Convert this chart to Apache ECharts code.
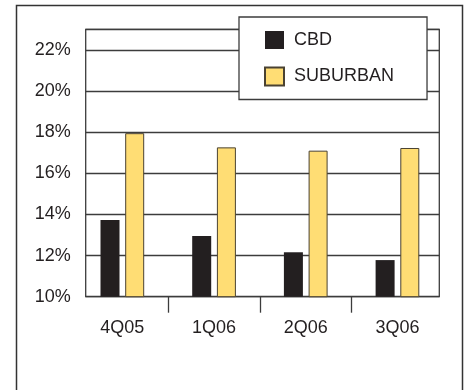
<!DOCTYPE html>
<html>
<head>
<meta charset="utf-8">
<script src="https://cdn.jsdelivr.net/npm/echarts@6/dist/echarts.min.js"></script>
<style>
  html, body { margin: 0; padding: 0; background: #fff; }
  #chart { width: 467px; height: 390px; }
</style>
</head>
<body>
<div id="chart"></div>
<script>
// Vacancy rate by quarter, CBD vs suburban
const quarters = ['4Q05', '1Q06', '2Q06', '3Q06'];
const cbd = [13.73, 12.95, 12.16, 11.78];
const suburban = [17.95, 17.26, 17.10, 17.23];
const yMin = 10, yMax = 23, yStep = 2;
// category boundaries that carry a tick mark (between quarters)
const boundaries = [1, 2, 3];

const ink = '#231f20';
const lineCol = '#3c3c3c';

const chart = echarts.init(document.getElementById('chart'), null, { renderer: 'canvas' });

// plot frame and value scale
const plotLeft = 85.7, plotRight = 27.7, plotTop = 29.3, plotBottom = 93.3;
// category band area (slightly wider than the frame)
const bandLeft = 76.5, bandWidth = 366.8;
const bandStep = bandWidth / quarters.length;

chart.setOption({
  animation: false,
  backgroundColor: '#fff',
  textStyle: { fontFamily: 'Liberation Sans, Arial, sans-serif' },
  graphic: [{
    type: 'rect',
    silent: true,
    shape: { x: 16.5, y: 5.5, width: 446, height: 430 },
    style: { fill: null, stroke: '#333', lineWidth: 1.5 },
    z: 0
  }],
  grid: [
    { left: plotLeft, right: plotRight, top: plotTop, bottom: plotBottom,
      show: true, borderColor: lineCol, borderWidth: 1.3, backgroundColor: 'transparent' },
    { left: bandLeft, width: bandWidth, top: plotTop, bottom: plotBottom },
    { left: bandLeft + bandStep * boundaries[0], width: bandStep * (boundaries[boundaries.length - 1] - boundaries[0]),
      top: plotTop, bottom: plotBottom }
  ],
  legend: {
    orient: 'vertical',
    left: 239, top: 17,
    padding: [14, 33, 13, 25],
    itemGap: 17.5,
    itemWidth: 19, itemHeight: 18,
    icon: 'rect',
    backgroundColor: '#fff',
    borderColor: lineCol,
    borderWidth: 1.3,
    textStyle: { fontSize: 18, color: ink, padding: [0, 0, 0, 5] },
    data: ['CBD', 'SUBURBAN'],
    z: 10
  },
  xAxis: [
    { gridIndex: 0, type: 'category', data: quarters, show: false },
    { gridIndex: 1, type: 'category', data: quarters,
      axisLine: { show: false }, axisTick: { show: false },
      axisLabel: { fontSize: 18, color: ink, margin: 22 } },
    { gridIndex: 2, type: 'value', min: boundaries[0], max: boundaries[boundaries.length - 1], interval: 1,
      axisLine: { show: false }, splitLine: { show: false }, axisLabel: { show: false },
      axisTick: { show: true, length: 16, inside: false, lineStyle: { color: lineCol, width: 1.3 } } }
  ],
  yAxis: [
    { gridIndex: 0, type: 'value', min: yMin, max: yMax, interval: yStep,
      axisLine: { show: false }, axisTick: { show: false },
      axisLabel: { fontSize: 18, color: ink, margin: 15, showMaxLabel: false,
        formatter: v => v + '%' },
      splitLine: { show: true, lineStyle: { color: lineCol, width: 1.3 } } },
    { gridIndex: 1, type: 'value', min: yMin, max: yMax, show: false },
    { gridIndex: 2, type: 'value', min: yMin, max: yMax, show: false }
  ],
  series: [
    { name: 'CBD', type: 'bar', xAxisIndex: 1, yAxisIndex: 1,
      data: cbd, barWidth: 19, barGap: '30%',
      itemStyle: { color: ink, borderColor: ink, borderWidth: 0 }, z: 3 },
    { name: 'SUBURBAN', type: 'bar', xAxisIndex: 1, yAxisIndex: 1,
      data: suburban, barWidth: 19, barGap: '30%',
      itemStyle: { color: '#ffdd74', borderColor: '#4a4232', borderWidth: 1 }, z: 3 }
  ]
});
</script>
</body>
</html>
